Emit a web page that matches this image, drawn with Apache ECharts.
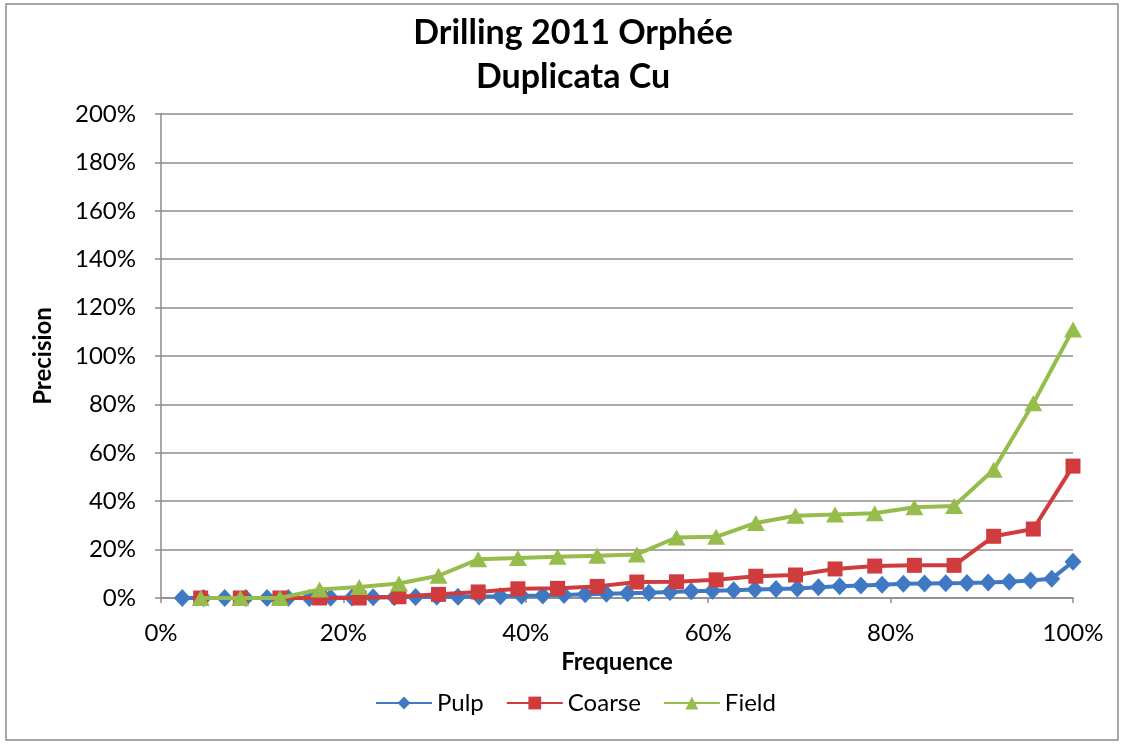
<!DOCTYPE html>
<html>
<head>
<meta charset="utf-8">
<script src="https://cdn.jsdelivr.net/npm/echarts@6/dist/echarts.min.js"></script>
<style>
  html, body { margin: 0; padding: 0; background: #ffffff; }
  #chart { width: 1130px; height: 744px; }
</style>
</head>
<body>
<div id="chart"></div>
<script>
// Cumulative frequency of each duplicate pair (rank / count)
const pulpFreq = [
  0.0233, 0.0465, 0.0698, 0.0930, 0.1163, 0.1395, 0.1628, 0.1860, 0.2093, 0.2326,
  0.2558, 0.2791, 0.3023, 0.3256, 0.3488, 0.3721, 0.3953, 0.4186, 0.4419, 0.4651,
  0.4884, 0.5116, 0.5349, 0.5581, 0.5814, 0.6047, 0.6279, 0.6512, 0.6744, 0.6977,
  0.7209, 0.7442, 0.7674, 0.7907, 0.8140, 0.8372, 0.8605, 0.8837, 0.9070, 0.9302,
  0.9535, 0.9767, 1.0000
];
const rejectFreq = [
  0.0435, 0.0870, 0.1304, 0.1739, 0.2174, 0.2609, 0.3043, 0.3478, 0.3913, 0.4348,
  0.4783, 0.5217, 0.5652, 0.6087, 0.6522, 0.6957, 0.7391, 0.7826, 0.8261, 0.8696,
  0.9130, 0.9565, 1.0000
];

// Relative precision of each pair, sorted ascending
const pulpPrecision = [
  0.000, 0.000, 0.000, 0.000, 0.000, 0.000, 0.000, 0.001, 0.002, 0.003,
  0.003, 0.004, 0.005, 0.005, 0.006, 0.007, 0.009, 0.010, 0.012, 0.015,
  0.018, 0.020, 0.022, 0.025, 0.028, 0.030, 0.032, 0.035, 0.037, 0.039,
  0.044, 0.049, 0.052, 0.055, 0.059, 0.060, 0.061, 0.062, 0.064, 0.067,
  0.072, 0.080, 0.150
];
const coarsePrecision = [
  0.000, 0.000, 0.000, 0.000, 0.000, 0.005, 0.015, 0.025, 0.038, 0.040,
  0.048, 0.066, 0.067, 0.075, 0.090, 0.095, 0.120, 0.132, 0.135, 0.135,
  0.255, 0.285, 0.545
];
const fieldPrecision = [
  0.000, 0.000, 0.000, 0.035, 0.045, 0.060, 0.092, 0.160, 0.165, 0.170,
  0.175, 0.180, 0.250, 0.253, 0.310, 0.340, 0.345, 0.350, 0.375, 0.380,
  0.530, 0.805, 1.110
];

const seriesNames = ['Pulp', 'Coarse', 'Field'];
const titleLines = ['Drilling 2011 Orphée', 'Duplicata Cu'];

const FONT = 'Lato, "Open Sans", sans-serif';
const TITLE_FONT = 'bold 34px ' + FONT;
const pct = v => Math.round(v * 100) + '%';
const pairs = (xs, ys) => xs.map((x, i) => [x, ys[i]]);

const chart = echarts.init(document.getElementById('chart'), null, { renderer: 'canvas' });

chart.setOption({
  backgroundColor: '#ffffff',
  animation: false,
  textStyle: { fontFamily: FONT, color: '#000' },
  graphic: [
    {
      type: 'rect',
      shape: { x: 6, y: 4, width: 1112, height: 736 },
      style: { fill: 'none', stroke: '#8a8a8a', lineWidth: 1.5 },
      silent: true,
      z: -1
    },
    // Two-line chart title, centred over the plot
    {
      type: 'text', x: 573, y: 33, silent: true,
      style: { text: titleLines[0], font: TITLE_FONT, fill: '#000', textAlign: 'center', textVerticalAlign: 'middle' }
    },
    {
      type: 'text', x: 573, y: 77, silent: true,
      style: { text: titleLines[1], font: TITLE_FONT, fill: '#000', textAlign: 'center', textVerticalAlign: 'middle' }
    }
  ],
  grid: { left: 161, right: 57, top: 114, bottom: 146, containLabel: false },
  legend: {
    bottom: 24,
    left: 370,
    itemWidth: 56,
    itemHeight: 16,
    itemGap: 22,
    textStyle: { fontFamily: FONT, fontSize: 24, color: '#000', padding: [0, 0, 0, 0] },
    data: seriesNames
  },
  xAxis: {
    type: 'value',
    min: 0, max: 1, interval: 0.2,
    name: 'Frequence',
    nameLocation: 'middle',
    nameGap: 52,
    nameTextStyle: { fontFamily: FONT, fontSize: 24, fontWeight: 'bold', color: '#000' },
    axisLine: { show: true, onZero: false, lineStyle: { color: '#8c8c8c', width: 1.5 } },
    axisTick: { show: true, length: 5, inside: false, lineStyle: { color: '#8c8c8c', width: 1.5 } },
    axisLabel: { formatter: pct, fontSize: 24, margin: 23, color: '#000', fontFamily: FONT },
    splitLine: { show: false }
  },
  yAxis: {
    type: 'value',
    min: 0, max: 2, interval: 0.2,
    name: 'Precision',
    nameLocation: 'middle',
    nameGap: 106,
    nameRotate: 90,
    nameTextStyle: { fontFamily: FONT, fontSize: 24, fontWeight: 'bold', color: '#000' },
    axisLine: { show: true, lineStyle: { color: '#8c8c8c', width: 1.5 } },
    axisTick: { show: true, length: 6, inside: false, lineStyle: { color: '#8c8c8c', width: 1.5 } },
    axisLabel: { formatter: pct, fontSize: 24, margin: 25, color: '#000', fontFamily: FONT },
    splitLine: { show: true, lineStyle: { color: '#8c8c8c', width: 1.5 } }
  },
  series: [
    {
      name: seriesNames[0],
      type: 'line',
      data: pairs(pulpFreq, pulpPrecision),
      symbol: 'diamond',
      symbolSize: [17, 18],
      showAllSymbol: true,
      color: '#3f79c4',
      lineStyle: { width: 4, color: '#3f79c4' },
      itemStyle: { color: '#3f79c4' },
      z: 2
    },
    {
      name: seriesNames[1],
      type: 'line',
      data: pairs(rejectFreq, coarsePrecision),
      symbol: 'rect',
      symbolSize: 15,
      showAllSymbol: true,
      color: '#d03c3e',
      lineStyle: { width: 4, color: '#d03c3e' },
      itemStyle: { color: '#d03c3e' },
      z: 3
    },
    {
      name: seriesNames[2],
      type: 'line',
      data: pairs(rejectFreq, fieldPrecision),
      symbol: 'triangle',
      symbolSize: [18, 16],
      showAllSymbol: true,
      color: '#96bd4c',
      lineStyle: { width: 4, color: '#96bd4c' },
      itemStyle: { color: '#96bd4c' },
      z: 4
    }
  ]
});
</script>
</body>
</html>
